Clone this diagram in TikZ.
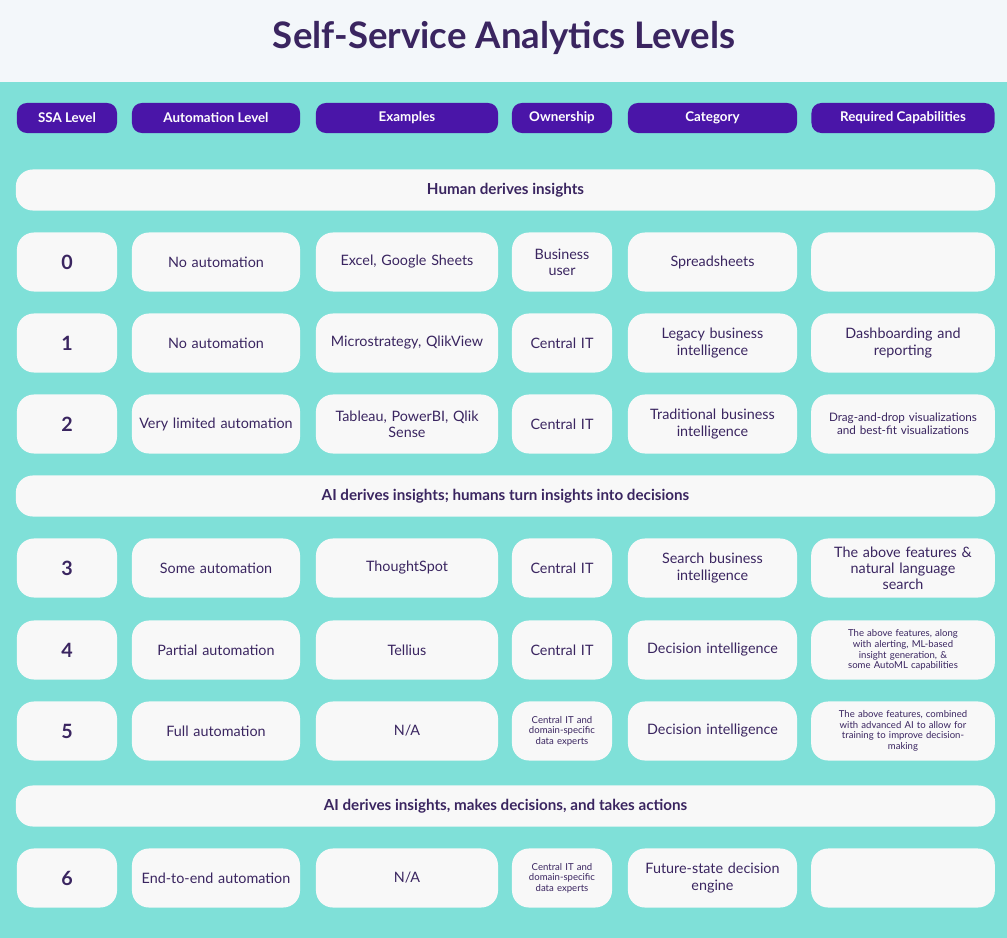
\documentclass[tikz,border=0pt]{standalone}
\usepackage{fontspec}
\setmainfont{Lato}
\usetikzlibrary{positioning}
\definecolor{teal}{HTML}{7FE0D8}
\definecolor{paper}{HTML}{F3F7FA}
\definecolor{ink}{HTML}{3A2560}
\definecolor{pill}{HTML}{4A15A8}
\definecolor{cellbg}{HTML}{F8F8F8}

\begin{document}
\begin{tikzpicture}[x=0.025cm, y=-0.025cm,
    head/.style={fill=pill, text=white, rounded corners=7pt, minimum height=0.75cm, font=\fontsize{9.5}{10}\selectfont\bfseries, inner sep=1pt},
    band/.style={fill=cellbg, rounded corners=12pt, minimum width=24.475cm, minimum height=1.025cm, text=ink, font=\fontsize{10.8}{12}\selectfont\bfseries},
    cell/.style={fill=cellbg, rounded corners=12pt, minimum height=1.475cm, text=ink, align=center, font=\fontsize{10.2}{11.5}\selectfont, inner sep=2pt},
    small/.style={font=\fontsize{8.3}{9.3}\selectfont},
    tiny/.style={font=\fontsize{6.8}{7.6}\selectfont},
    colA/.style={minimum width=2.5cm, text width=2.3cm},
    colB/.style={minimum width=4.2cm, text width=4.05cm},
    colC/.style={minimum width=4.55cm, text width=4.35cm},
    colD/.style={minimum width=2.5cm, text width=2.35cm},
    colE/.style={minimum width=4.225cm, text width=4.05cm},
    colF/.style={minimum width=4.575cm, text width=4.45cm}]
\useasboundingbox (0,0) rectangle (1007,938);
\fill[teal] (0,82) rectangle (1007,938);
\fill[paper] (0,0) rectangle (1007,82);
\node[text=ink, font=\fontsize{26}{30}\selectfont\bfseries] (title) at (504,38) {Self-Service Analytics Levels};

% header pills
\node[head, minimum width=2.5cm] (hA) at (67,118) {SSA Level};
\node[head, minimum width=4.2cm] (hB) at (216,118) {Automation Level};
\node[head, minimum width=4.55cm] (hC) at (407,118) {Examples};
\node[head, minimum width=2.5cm] (hD) at (562,118) {Ownership};
\node[head, minimum width=4.225cm] (hE) at (712.5,118) {Category};
\node[head, minimum width=4.575cm] (hF) at (903,118) {Required Capabilities};

% section bands
\node[band] (s1) at (505.5,190) {Human derives insights};
\node[band] (s2) at (505.5,496) {AI derives insights; humans turn insights into decisions};
\node[band] (s3) at (505.5,806) {AI derives insights, makes decisions, and takes actions};

% rows
\foreach \y/\lvl/\auto/\ex/\own/\cat/\cap/\ofont/\cfont in {
  262/0/No automation/{Excel, Google Sheets}/{Business\\user}/Spreadsheets/{}/cell/cell,
  343/1/No automation/{Microstrategy, QlikView}/Central IT/{Legacy business\\intelligence}/{Dashboarding and\\reporting}/cell/cell,
  424/2/Very limited automation/{Tableau, PowerBI, Qlik\\Sense}/Central IT/{Traditional business\\intelligence}/{Drag-and-drop visualizations\\and best-fit visualizations}/cell/small,
  568/3/Some automation/ThoughtSpot/Central IT/{Search business\\intelligence}/{The above features \&\\natural language\\search}/cell/cell,
  650/4/Partial automation/Tellius/Central IT/Decision intelligence/{The above features, along\\with alerting, ML-based\\insight generation, \&\\some AutoML capabilities}/cell/tiny,
  731/5/Full automation/{N/A}/{Central IT and\\domain-specific\\data experts}/Decision intelligence/{The above features, combined\\with advanced AI to allow for\\training to improve decision-\\making}/tiny/tiny,
  878/6/End-to-end automation/{N/A}/{Central IT and\\domain-specific\\data experts}/{Future-state decision\\engine}/{}/tiny/cell}
{
  \node[cell, colA, font=\fontsize{14}{16}\selectfont\bfseries] (a\lvl) at (67,\y) {\lvl};
  \node[cell, colB] (b\lvl) at (216,\y) {\auto};
  \node[cell, colC] (c\lvl) at (407,\y) {\ex};
  \node[cell, colD, \ofont] (d\lvl) at (562,\y) {\own};
  \node[cell, colE] (e\lvl) at (712.5,\y) {\cat};
  \node[cell, colF, \cfont] (f\lvl) at (903,\y) {\cap};
}
\end{tikzpicture}
\end{document}
